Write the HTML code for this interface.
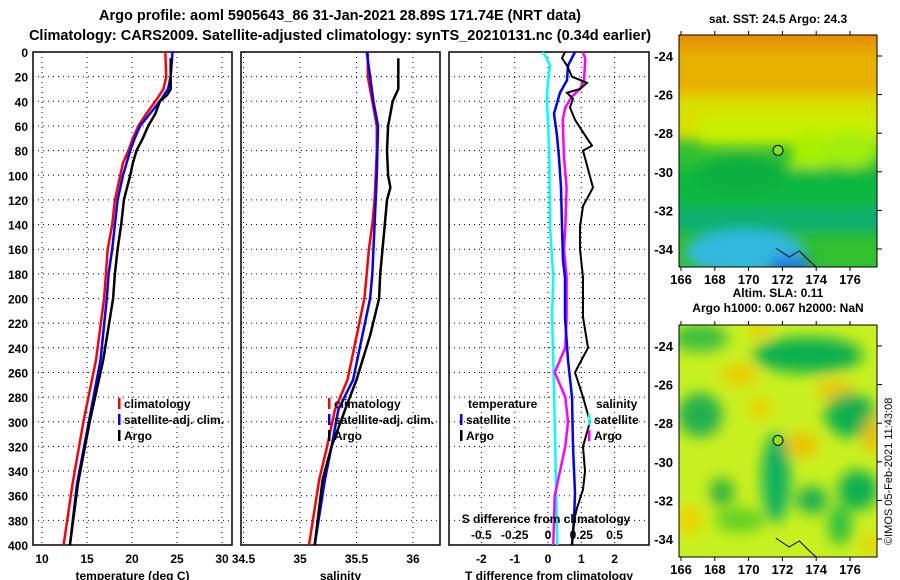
<!DOCTYPE html>
<html><head><meta charset="utf-8"><style>
html,body{margin:0;padding:0;background:#fff;}
svg{display:block;font-family:"Liberation Sans",sans-serif;font-weight:bold;}
</style></head><body>
<svg id="chart" width="900" height="580" viewBox="0 0 900 580" xmlns="http://www.w3.org/2000/svg">
<defs>
<filter id="blur1" x="-20%" y="-20%" width="140%" height="140%"><feGaussianBlur stdDeviation="6"/></filter>
<filter id="blur2" x="-20%" y="-20%" width="140%" height="140%"><feGaussianBlur stdDeviation="7"/></filter>
<clipPath id="cm1"><rect x="679" y="35" width="198" height="232"/></clipPath>
<clipPath id="cm2"><rect x="679" y="325" width="198" height="232"/></clipPath>
<clipPath id="cp1"><rect x="33" y="52" width="199" height="493"/></clipPath>
<clipPath id="cp2"><rect x="241" y="52" width="199" height="493"/></clipPath>
<clipPath id="cp3"><rect x="449" y="52" width="200" height="493"/></clipPath>
</defs>
<text x="340" y="20" font-size="14.5" text-anchor="middle">Argo profile: aoml 5905643_86 31-Jan-2021 28.89S 171.74E (NRT data)</text>
<text x="340" y="40" font-size="14.5" text-anchor="middle">Climatology: CARS2009. Satellite-adjusted climatology: synTS_20210131.nc (0.34d earlier)</text>

<!-- SST map -->
<g clip-path="url(#cm1)">
<rect x="679" y="35" width="198" height="232" fill="#30c030"/>
<g filter="url(#blur1)">
<rect x="670" y="25" width="220" height="95" fill="#e8b000"/>
<rect x="670" y="20" width="220" height="28" fill="#e89000"/>
<rect x="670" y="95" width="220" height="45" fill="#d8e000"/>
<rect x="700" y="115" width="180" height="30" fill="#c8f000"/>
<ellipse cx="810" cy="170" rx="20" ry="40" fill="#a8f000"/>
<ellipse cx="850" cy="150" rx="30" ry="18" fill="#a0ee10"/>
<rect x="670" y="168" width="220" height="40" fill="#10b840"/>
<ellipse cx="740" cy="175" rx="45" ry="20" fill="#10b040"/>
<rect x="670" y="208" width="220" height="25" fill="#10b070"/>
<ellipse cx="745" cy="252" rx="60" ry="22" fill="#30b8e0"/>
<ellipse cx="790" cy="265" rx="22" ry="8" fill="#2070e0"/>
</g>
</g>
<rect x="679" y="35" width="198" height="232" fill="none" stroke="#000"/>
<text x="778" y="23" font-size="12" text-anchor="middle">sat. SST: 24.5 Argo: 24.3</text>
<text x="778" y="297" font-size="12" text-anchor="middle">Altim. SLA: 0.11</text>
<text x="778" y="312" font-size="12" text-anchor="middle">Argo h1000: 0.067 h2000: NaN</text>

<!-- SLA map -->
<g clip-path="url(#cm2)">
<rect x="679" y="325" width="198" height="232" fill="#c8f020"/>
<g filter="url(#blur2)">
<ellipse cx="740" cy="375" rx="18" ry="10" fill="#f0c800"/>
<ellipse cx="760" cy="330" rx="10" ry="8" fill="#f0c800"/>
<ellipse cx="835" cy="390" rx="18" ry="10" fill="#f0c800"/>
<ellipse cx="760" cy="408" rx="12" ry="10" fill="#f0d000"/>
<ellipse cx="700" cy="338" rx="28" ry="14" fill="#40c040"/>
<ellipse cx="808" cy="355" rx="55" ry="18" fill="#10b050"/>
<ellipse cx="700" cy="415" rx="22" ry="22" fill="#20b050"/>
<ellipse cx="850" cy="415" rx="25" ry="22" fill="#10b050"/>
<ellipse cx="776" cy="478" rx="14" ry="45" fill="#10b060"/>
<ellipse cx="858" cy="490" rx="20" ry="20" fill="#10b050"/>
<ellipse cx="812" cy="500" rx="16" ry="14" fill="#20b050"/>
<ellipse cx="802" cy="445" rx="16" ry="12" fill="#f0c000"/>
<ellipse cx="872" cy="435" rx="8" ry="18" fill="#f0b800"/>
<ellipse cx="690" cy="520" rx="12" ry="14" fill="#f0d000"/>
<ellipse cx="722" cy="492" rx="12" ry="14" fill="#30b040"/>
<ellipse cx="740" cy="520" rx="25" ry="12" fill="#60d020"/>
<ellipse cx="840" cy="525" rx="12" ry="20" fill="#30c040"/>
<ellipse cx="870" cy="545" rx="8" ry="12" fill="#f0d000"/>
</g>
</g>
<rect x="679" y="325" width="198" height="232" fill="none" stroke="#000"/>
<text transform="translate(892,545) rotate(-90)" font-size="11" font-weight="normal">©IMOS 05-Feb-2021 11:43:08</text>
<g id="axes"></g>
</svg>
<script>
// ---- data ----
var depthTicks = [0,20,40,60,80,100,120,140,160,180,200,220,240,260,280,300,320,340,360,380,400];
var tempTicks = [10,15,20,25,30];
var salTicks = [34.5,35,35.5,36];
var tdiffTicks = [-2,-1,0,1,2];
var sdiffTicks = [-0.5,-0.25,0,0.25,0.5];

var climTDepth = [0,20,30,40,50,60,70,80,90,100,120,140,160,180,200,250,300,350,400];
var climTVal   = [23.7,23.8,23.5,22.6,21.6,20.7,20.1,19.6,19.0,18.7,18.1,17.8,17.3,17.1,16.9,16.0,14.6,13.4,12.4];
var satTDepth  = [0,20,30,40,50,60,70,80,100,120,140,160,180,200,250,300,350,400];
var satTVal    = [24.5,24.3,24.0,23.1,22.0,20.9,20.3,19.8,19.0,18.4,18.1,17.8,17.4,17.2,16.5,15.2,13.9,13.1];
var argoTDepth = [5,30,35,40,50,60,70,80,90,100,120,140,160,180,200,250,300,350,400];
var argoTVal   = [24.3,24.3,23.9,23.1,22.6,21.8,21.2,20.5,20.1,19.8,19.1,18.8,18.4,18.1,17.9,16.8,15.3,14.0,13.1];

var climSDepth = [0,20,40,60,80,100,120,140,160,180,200,266,290,320,347,400];
var climSVal   = [35.60,35.60,35.64,35.68,35.68,35.67,35.66,35.64,35.61,35.59,35.57,35.42,35.31,35.24,35.17,35.08];
var satSDepth  = [0,20,40,60,100,140,180,200,266,290,320,347,400];
var satSVal    = [35.59,35.62,35.65,35.69,35.68,35.66,35.64,35.62,35.47,35.34,35.28,35.22,35.13];
var argoSDepth = [5,30,40,60,80,100,110,120,140,160,180,200,230,266,290,320,347,400];
var argoSVal   = [35.87,35.87,35.82,35.78,35.77,35.78,35.80,35.77,35.75,35.73,35.71,35.70,35.62,35.50,35.40,35.28,35.20,35.13];

var satTdDepth = [0,11,23,33,50,68,86,110,142,169,183,215,250,280,320,358,380,400];
var satTdVal   = [0.81,0.6,0.57,0.36,0.18,0.27,0.33,0.39,0.42,0.45,0.51,0.51,0.6,0.72,0.75,0.81,0.78,0.72];
var argoTdDepth = [0,5,11,20,25,30,33,38,45,55,70,76,80,95,110,125,142,160,183,215,240,260,280,300,320,340,355,370,380,400];
var argoTdVal   = [0.51,0.42,0.57,0.72,1.17,0.96,0.57,0.75,0.66,0.81,1.17,1.32,1.05,1.2,1.35,1.05,0.96,0.96,1.05,1.05,1.2,0.81,1.05,1.26,1.05,1.11,1.05,0.87,0.78,0.72];
var satSdDepth = [0,5,11,23,40,55,86,142,183,215,250,300,350,400];
var satSdVal   = [-0.04,-0.01,0.015,0,-0.01,0,0.01,0.015,0.04,0.03,0.04,0.05,0.06,0.07];
var argoSdDepth = [0,5,23,30,36,45,55,86,110,142,160,183,215,240,260,280,300,320,340,360,380,400];
var argoSdVal   = [0.26,0.28,0.27,0.24,0.18,0.13,0.11,0.12,0.14,0.13,0.12,0.14,0.14,0.13,0.05,0.13,0.15,0.13,0.09,0.05,0.045,0.04];

var lonTicks = [166,168,170,172,174,176];
var latTicks = [-24,-26,-28,-30,-32,-34];
var argoLon = 171.74, argoLat = -28.89;

// ---- scales ----
var TOP = 52, BOT = 545;
function yD(d){ return TOP + d*(BOT-TOP)/400; }
function xT(t){ return 42 + (t-10)*9; }
function xS(s){ return 300 + (s-35)*113; }
function xTd(v){ return 548 + v*33.3; }
function xSd(v){ return 548 + v*133.2; }
function mLon(l){ return 681 + (l-166)*16.9; }
function mLat1(l){ return 56 + (-24-l)*19.3; }
function mLat2(l){ return 346 + (-24-l)*19.3; }

var NS = "http://www.w3.org/2000/svg";
var g = document.getElementById('axes');
function el(tag){ var e = document.createElementNS(NS, tag); g.appendChild(e); return e; }
function txt(x,y,s,anchor,size){
  var t = el('text'); t.setAttribute('x',x); t.setAttribute('y',y);
  t.setAttribute('font-size', size||12); t.setAttribute('text-anchor', anchor||'middle');
  t.textContent = s; return t;
}

var panels = [
  {x0:33,x1:232,clip:'cp1',ticks:tempTicks,fx:xT,title:'temperature (deg C)',name:'temperature'},
  {x0:241,x1:440,clip:'cp2',ticks:salTicks,fx:xS,title:'salinity',name:'salinity'},
  {x0:449,x1:649,clip:'cp3',ticks:tdiffTicks,fx:xTd,title:'T difference from climatology',name:'difference'}
];
panels.forEach(function(p){
  var i;
  for(i=1;i<depthTicks.length-1;i++){
    var y = yD(depthTicks[i]);
    var l = el('line');
    
    
    l.setAttribute('x1',p.x0); l.setAttribute('x2',p.x1); l.setAttribute('y1',y); l.setAttribute('y2',y);
    l.setAttribute('stroke','#000'); l.setAttribute('stroke-dasharray','1,4');
  }
  p.ticks.forEach(function(v){
    var x = p.fx(v);
    var l = el('line');
    
    
    l.setAttribute('x1',x); l.setAttribute('x2',x); l.setAttribute('y1',TOP); l.setAttribute('y2',BOT);
    l.setAttribute('stroke','#000'); l.setAttribute('stroke-dasharray','1,4');
    var t = txt(x, 563, String(v));
    
    
  });
  var r = el('rect');
  
  
  r.setAttribute('x',p.x0); r.setAttribute('y',TOP); r.setAttribute('width',p.x1-p.x0); r.setAttribute('height',BOT-TOP);
  r.setAttribute('fill','none'); r.setAttribute('stroke','#000'); r.setAttribute('stroke-width','1.5');
  var at = txt((p.x0+p.x1)/2, 580, p.title);
  
  
});
depthTicks.forEach(function(d){
  var t = txt(28, yD(d)+5, String(d), 'end');
  
  
});

function series(xs, ds, fx, color, clip, name, w){
  var pts = [];
  for(var i=0;i<xs.length;i++){ pts.push(fx(xs[i]).toFixed(1)+','+yD(ds[i]).toFixed(1)); }
  var pl = el('polyline');
  
  
  pl.setAttribute('points', pts.join(' '));
  pl.setAttribute('fill','none'); pl.setAttribute('stroke',color); pl.setAttribute('stroke-width', w||2.5);
  pl.setAttribute('clip-path','url(#'+clip+')');
}
series(climTVal, climTDepth, xT, '#ff0000', 'cp1', 'temperature-climatology-line');
series(satTVal, satTDepth, xT, '#0000ff', 'cp1', 'temperature-satellite-line');
series(argoTVal, argoTDepth, xT, '#000000', 'cp1', 'temperature-argo-line');
series(climSVal, climSDepth, xS, '#ff0000', 'cp2', 'salinity-climatology-line');
series(satSVal, satSDepth, xS, '#0000ff', 'cp2', 'salinity-satellite-line');
series(argoSVal, argoSDepth, xS, '#000000', 'cp2', 'salinity-argo-line');
series(satSdVal, satSdDepth, xSd, '#00ffff', 'cp3', 'salinity-satellite-diff-line');
series(argoSdVal, argoSdDepth, xSd, '#ff00ff', 'cp3', 'salinity-argo-diff-line');
series(satTdVal, satTdDepth, xTd, '#0000ff', 'cp3', 'temperature-satellite-diff-line');
series(argoTdVal, argoTdDepth, xTd, '#000000', 'cp3', 'temperature-argo-diff-line', 2);

// S difference axis
var sl = txt(546, 523, 'S difference from climatology');


sdiffTicks.forEach(function(v){
  var t = txt(xSd(v), 539, String(v));
  
  
});

// legends
function legend(x, y, color, label, name){
  var m = el('rect');
  
  
  m.setAttribute('x', x); m.setAttribute('y', y-10); m.setAttribute('width', 2.5); m.setAttribute('height', 11); m.setAttribute('fill', color);
  var t = txt(x+6, y, label, 'start');
  
  
}
legend(118, 408, '#ff0000', 'climatology', 'legend-temp-climatology');
legend(118, 424, '#0000ff', 'satellite-adj. clim.', 'legend-temp-satellite');
legend(118, 440, '#000000', 'Argo', 'legend-temp-argo');
legend(328, 408, '#ff0000', 'climatology', 'legend-sal-climatology');
legend(328, 424, '#0000ff', 'satellite-adj. clim.', 'legend-sal-satellite');
legend(328, 440, '#000000', 'Argo', 'legend-sal-argo');
var lt = txt(468, 408, 'temperature', 'start');


legend(460, 424, '#0000ff', 'satellite', 'legend-diff-temp-satellite');
legend(460, 440, '#000000', 'Argo', 'legend-diff-temp-argo');
var ls = txt(596, 408, 'salinity', 'start');


legend(588, 424, '#00ffff', 'satellite', 'legend-diff-sal-satellite');
legend(588, 440, '#ff00ff', 'Argo', 'legend-diff-sal-argo');

// map axes
[[mLat1,35,267,'sst'],[mLat2,325,557,'sla']].forEach(function(m){
  var fy = m[0], y0 = m[1], y1 = m[2];
  lonTicks.forEach(function(l){
    var x = mLon(l);
    var k = el('line');
    
    
    k.setAttribute('x1',x); k.setAttribute('x2',x); k.setAttribute('y1',y1); k.setAttribute('y2',y1+4); k.setAttribute('stroke','#000');
    var k2 = el('line');
    
    
    k2.setAttribute('x1',x); k2.setAttribute('x2',x); k2.setAttribute('y1',y0-4); k2.setAttribute('y2',y0); k2.setAttribute('stroke','#000');
    var t = txt(x, y1+17, String(l), 'middle', 13);
    
    
  });
  latTicks.forEach(function(l){
    var y = fy(l);
    var k = el('line');
    
    
    k.setAttribute('x1',877); k.setAttribute('x2',882); k.setAttribute('y1',y); k.setAttribute('y2',y); k.setAttribute('stroke','#000');
    var t = txt(673, y+5, String(l), 'end', 13);
    
    
  });
  var c = el('circle');
  
  
  c.setAttribute('cx', mLon(argoLon)); c.setAttribute('cy', fy(argoLat)); c.setAttribute('r', 5);
  c.setAttribute('fill', m[3]==='sst' ? '#80e020' : '#90e020'); c.setAttribute('stroke', '#000');
  var nz = el('polyline');
  
  
  nz.setAttribute('points', [mLon(171.6)+','+(y1-19), mLon(172.4)+','+(y1-10), mLon(173)+','+(y1-16), mLon(173.6)+','+(y1-6), mLon(174)+','+y1].join(' '));
  nz.setAttribute('fill','none'); nz.setAttribute('stroke','#000');
});
</script>
</body></html>
